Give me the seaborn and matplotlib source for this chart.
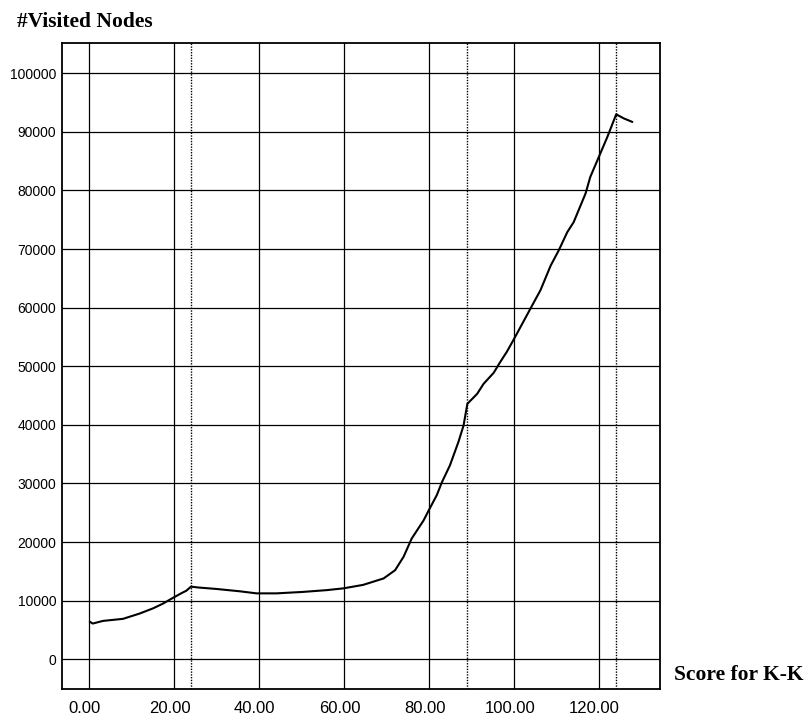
import matplotlib
matplotlib.use("Agg")
import matplotlib.pyplot as plt
import matplotlib.transforms as mtransforms
import seaborn as sns
import pandas as pd

# Curve
score = [0.2, 0.9, 3.3, 8.0, 11.9, 15.1, 17.4, 19.8, 21.8, 22.9, 24.0, 25.7,
         30.0, 35.5, 39.4, 44.1, 50.4, 55.9, 59.8, 64.5, 69.3, 72.0, 74.0,
         75.9, 78.7, 79.9, 81.8, 83.0, 84.9, 86.9, 88.1, 89.0, 91.3, 92.8,
         95.2, 96.7, 98.3, 100.0, 103.8, 106.2, 108.6, 110.5, 112.5, 114.0,
         116.8, 117.9, 119.9, 121.9, 124.0, 125.8, 127.8]
visited = [6400, 6100, 6550, 6900, 7800, 8700, 9500, 10500, 11300, 11700,
           12400, 12250, 12000, 11600, 11250, 11250, 11500, 11800, 12100,
           12700, 13800, 15200, 17500, 20600, 23700, 25400, 28000, 30200,
           33100, 37100, 39900, 43600, 45300, 47000, 48900, 50700, 52500,
           54700, 59800, 63000, 67200, 69800, 72900, 74600, 79500, 82300,
           85700, 89100, 93000, 92300, 91700]

marker_x = [24.0, 89.0, 124.0]
x_ticks = [0, 20, 40, 60, 80, 100, 120]
x_labels = ["0.00", "20.00", "40.00", "60.00", "80.00", "100.00", "120.00"]
y_ticks = list(range(0, 100001, 10000))

df = pd.DataFrame({"score": score, "visited": visited})

sns.set_style("white")
plt.rcParams["font.family"] = ["Liberation Sans", "DejaVu Sans"]

fig = plt.figure(figsize=(8.09, 7.18), dpi=100)
ax = fig.add_axes([0.0766, 0.0404, 0.7392, 0.8997])

# grid
for v in y_ticks:
    ax.axhline(v, color="black", lw=0.9, zorder=1)
for v in x_ticks:
    ax.axvline(v, color="black", lw=0.9, zorder=1)
for v in marker_x:
    ax.axvline(v, color="black", lw=1.0, ls=(0, (1, 1)), zorder=1)

sns.lineplot(data=df, x="score", y="visited", color="black", lw=1.5,
             ax=ax, zorder=3)

ax.set_xlim(-6.35, 134.3)
ax.set_ylim(-5070, 105170)
ax.set_xticks(x_ticks)
ax.set_xticklabels(x_labels, fontsize=12)
ax.set_yticks(y_ticks)
ax.set_yticklabels([str(v) for v in y_ticks], fontsize=10)
ax.tick_params(axis="x", length=0, pad=9, labelcolor="black")
ax.tick_params(axis="y", length=0, pad=4, labelcolor="black")
ax.set_xlabel("")
ax.set_ylabel("")
for s in ax.spines.values():
    s.set_color("black")
    s.set_linewidth(1.3)

shift = mtransforms.ScaledTranslation(-4.5 / 100, 0, fig.dpi_scale_trans)
for lab in ax.get_xticklabels():
    lab.set_transform(lab.get_transform() + shift)

fig.text(17 / 809, 1 - 22 / 718, "#Visited Nodes", family="Liberation Serif",
         weight="bold", fontsize=15.5, va="center", ha="left", color="black")
fig.text(674 / 809, 1 - 675 / 718, "Score for K-K", family="Liberation Serif",
         weight="bold", fontsize=15.5, va="center", ha="left", color="black")

fig.savefig("out.png", dpi=100)
